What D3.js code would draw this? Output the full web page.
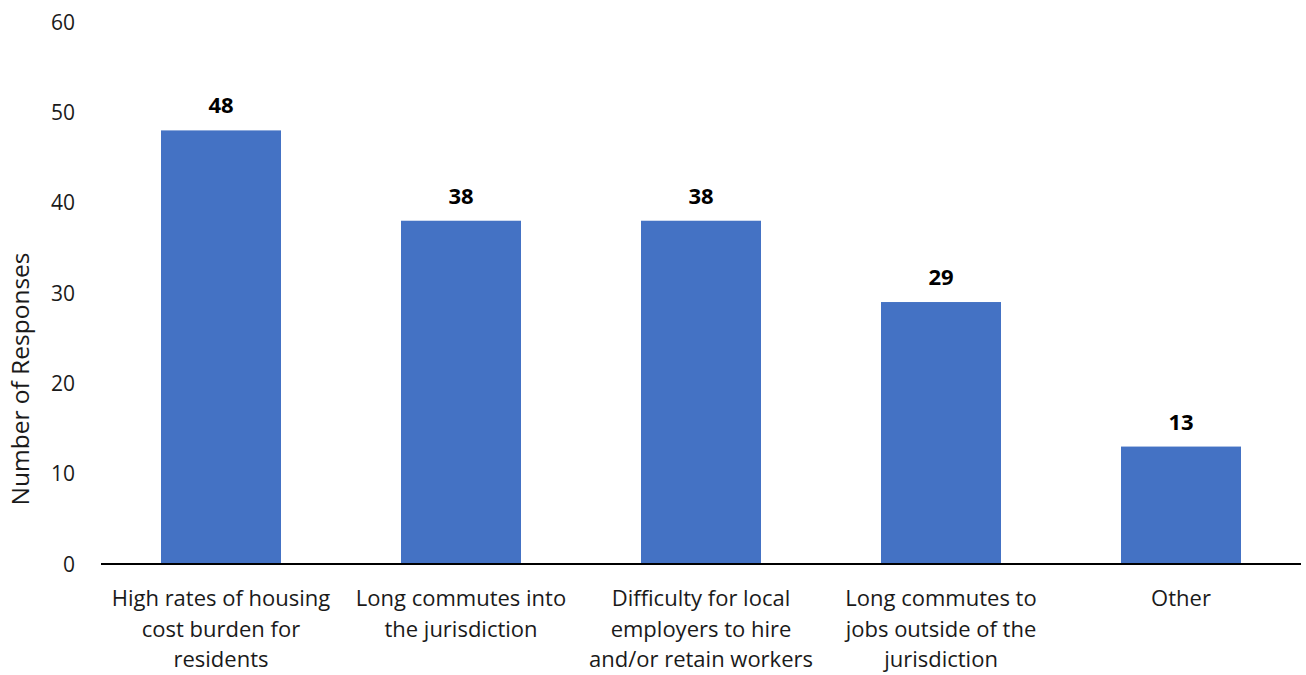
<!DOCTYPE html>
<html><head><meta charset="utf-8">
<script src="https://cdn.jsdelivr.net/npm/d3@7"></script>
<style>body{margin:0;background:#fff;} svg{display:block;font-family:"Open Sans",sans-serif;}</style>
</head><body>
<svg id="c" width="1306" height="675"></svg>
<script>
const categories = [
  ["High rates of housing", "cost burden for", "residents"],
  ["Long commutes into", "the jurisdiction"],
  ["Difficulty for local", "employers to hire", "and/or retain workers"],
  ["Long commutes to", "jobs outside of the", "jurisdiction"],
  ["Other"]
];
const values = [48, 38, 38, 29, 13];
const yTicks = [0, 10, 20, 30, 40, 50, 60];
const yTitle = "Number of Responses";

const svg = d3.select("#c");
const x = d3.scaleBand().domain(d3.range(values.length)).range([101, 1301]).paddingInner(0.5).paddingOuter(0.25);
const y = d3.scaleLinear().domain([0, 60]).range([564, 22]);

svg.selectAll("rect.bar").data(values).join("rect").attr("class","bar")
  .attr("x",(d,i)=>x(i)).attr("width",x.bandwidth())
  .attr("y",d=>y(d)).attr("height",d=>y(0)-y(d)).attr("fill","#4472C4");

svg.append("line").attr("x1",101).attr("x2",1301).attr("y1",y(0)).attr("y2",y(0))
  .attr("stroke","#000").attr("stroke-width",2);

svg.selectAll("text.yt").data(yTicks).join("text").attr("class","yt")
  .attr("x",75).attr("y",d=>y(d)).attr("dy","0.36em").attr("text-anchor","end")
  .attr("font-size",21).attr("fill","#1a1a1a").text(d=>d);

svg.selectAll("text.lbl").data(values).join("text").attr("class","lbl")
  .attr("x",(d,i)=>x(i)+x.bandwidth()/2).attr("y",d=>y(d)-17)
  .attr("text-anchor","middle").attr("font-size",22).attr("font-weight","bold").attr("fill","#000").text(d=>d);

const cat = svg.selectAll("text.cat").data(categories).join("text").attr("class","cat")
  .attr("text-anchor","middle").attr("font-size",22).attr("fill","#1a1a1a");
cat.each(function(lines,i){
  d3.select(this).selectAll("tspan").data(lines).join("tspan")
    .attr("x",x(i)+x.bandwidth()/2).attr("y",(l,j)=>606+j*30.5).text(l=>l);
});

svg.append("text").attr("transform","translate(29,379) rotate(-90)")
  .attr("text-anchor","middle").attr("font-size",24.5).attr("fill","#1a1a1a").text(yTitle);
</script>
</body></html>
